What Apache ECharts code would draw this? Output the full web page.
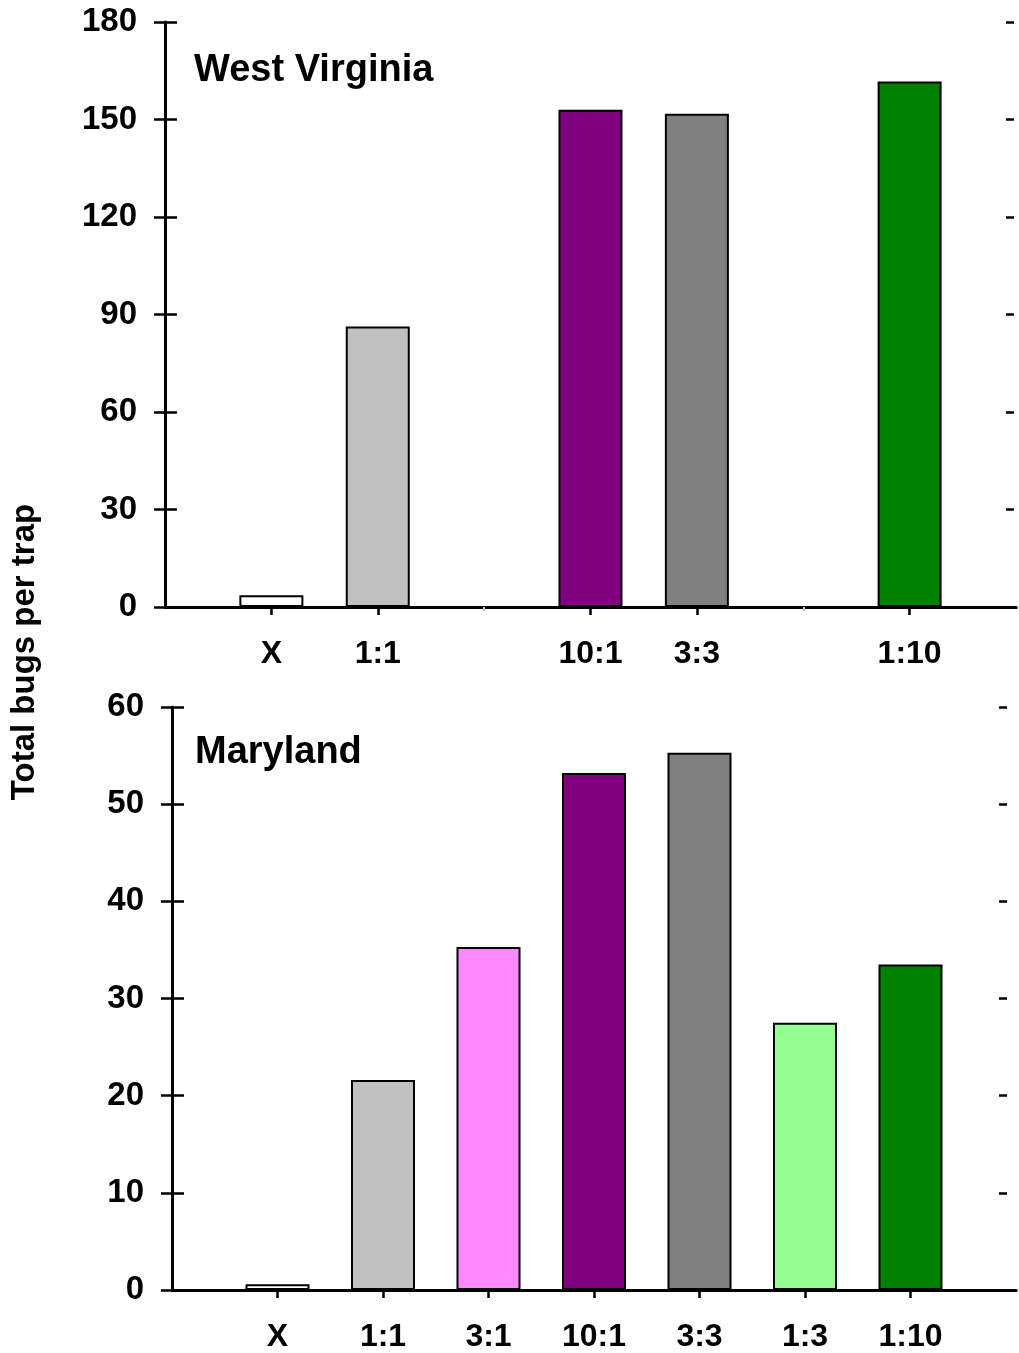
<!DOCTYPE html>
<html>
<head>
<meta charset="utf-8">
<script src="https://cdn.jsdelivr.net/npm/echarts@6/dist/echarts.min.js"></script>
<style>
html,body{margin:0;padding:0;background:#fff;}
#c{width:1019px;height:1353px;}
</style>
</head>
<body>
<div id="c"></div>
<script>
// ---- data ----
const categories = ['X', '1:1', '3:1', '10:1', '3:3', '1:3', '1:10'];
const barColors = ['#FFFFFF', '#C0C0C0', '#FF88FF', '#800080', '#808080', '#96FF96', '#008000'];
const wvLabels = ['X', '1:1', '', '10:1', '3:3', '', '1:10'];
const wvValues = [3.6, 86.3, null, 153.0, 151.8, null, 161.7];
const mdLabels = ['X', '1:1', '3:1', '10:1', '3:3', '1:3', '1:10'];
const mdValues = [0.6, 21.6, 35.3, 53.2, 55.3, 27.5, 33.5];
const wvTicks = [0, 30, 60, 90, 120, 150, 180];
const mdTicks = [0, 10, 20, 30, 40, 50, 60];
const panelTitles = ['West Virginia', 'Maryland'];
const yTitle = 'Total bugs per trap';

const FONT = '"Liberation Sans", Arial, sans-serif';
const chart = echarts.init(document.getElementById('c'), null, {renderer: 'canvas'});

function padded(arr, fill) { return [fill].concat(arr).concat([fill]); }

const grids = [
  {left: 165, top: 22, width: 856, height: 585},
  {left: 172, top: 707, width: 856, height: 586}
];
const panels = [
  {labels: wvLabels, values: wvValues, ticks: wvTicks, rightOffset: -2},
  {labels: mdLabels, values: mdValues, ticks: mdTicks, rightOffset: -9}
];

const xAxes = [], yAxes = [], series = [];
panels.forEach((p, gi) => {
  const axisData = padded(p.labels, '');
  const tmax = p.ticks[p.ticks.length - 1];
  const tint = p.ticks[1] - p.ticks[0];
  const vals = padded(p.values, null);
  const inner = (idx) => idx > 0 && idx < axisData.length - 1;
  // bottom category axis
  xAxes.push({
    gridIndex: gi, type: 'category', data: axisData, boundaryGap: false, position: 'bottom',
    axisLine: {show: true, lineStyle: {color: '#000', width: 3}},
    axisTick: {show: true, inside: false, length: 8, lineStyle: {color: '#000', width: 2.5},
      interval: (idx) => inner(idx) && vals[idx] !== null},
    axisLabel: {show: true, interval: 0, margin: 31, color: '#000', fontSize: 32, fontWeight: 'bold', fontFamily: FONT},
    splitLine: {show: false}
  });
  // top border line
  xAxes.push({
    gridIndex: gi, type: 'category', data: axisData, boundaryGap: false, position: 'top',
    axisLine: {show: true, lineStyle: {color: '#000', width: 3}},
    axisTick: {show: false}, axisLabel: {show: false}, splitLine: {show: false}
  });
  const yBase = {gridIndex: gi, type: 'value', min: 0, max: tmax, interval: tint, splitLine: {show: false}};
  yAxes.push(Object.assign({}, yBase, {
    position: 'left',
    axisLine: {show: true, lineStyle: {color: '#000', width: 3}},
    axisTick: {show: true, inside: false, length: 11, lineStyle: {color: '#000', width: 2.5}},
    axisLabel: {show: true, margin: 28, color: '#000', fontSize: 33, fontWeight: 'bold', fontFamily: FONT}
  }));
  yAxes.push(Object.assign({}, yBase, {
    position: 'left', offset: 0,
    axisLine: {show: false},
    axisTick: {show: true, inside: true, length: 12, lineStyle: {color: '#000', width: 2.5}},
    axisLabel: {show: false}
  }));
  yAxes.push(Object.assign({}, yBase, {
    position: 'right', offset: p.rightOffset,
    axisLine: {show: false},
    axisTick: {show: true, inside: true, length: 8, lineStyle: {color: '#000', width: 2.5}},
    axisLabel: {show: false}
  }));
  series.push({
    type: 'bar', xAxisIndex: gi * 2, yAxisIndex: gi * 3, barWidth: 64,
    data: vals.map((v, i) => v === null ? null : {
      value: v,
      itemStyle: {color: barColors[i - 1], borderColor: '#000', borderWidth: 2}
    }),
    silent: true, animation: false
  });
});

// faint ticks under the empty categories of the top panel
const wvAxisData = padded(wvLabels, '');
const wvVals = padded(wvValues, null);
xAxes.push({
  gridIndex: 0, type: 'category', data: wvAxisData, boundaryGap: false, position: 'bottom', offset: 0,
  axisLine: {show: false},
  axisTick: {show: true, inside: false, length: 4, lineStyle: {color: '#c8c8c8', width: 2},
    interval: (idx) => idx > 0 && idx < wvAxisData.length - 1 && wvVals[idx] === null},
  axisLabel: {show: false}, splitLine: {show: false}
});

const option = {
  backgroundColor: '#fff',
  animation: false,
  grid: grids,
  xAxis: xAxes,
  yAxis: yAxes,
  series: series,
  title: [
    {text: panelTitles[0], left: 194, top: 52, padding: 0,
      textStyle: {fontSize: 38, fontWeight: 'bold', color: '#000', fontFamily: FONT}},
    {text: panelTitles[1], left: 195, top: 734, padding: 0,
      textStyle: {fontSize: 38, fontWeight: 'bold', color: '#000', fontFamily: FONT}}
  ],
  graphic: [{
    type: 'text', x: 25, y: 652, rotation: Math.PI / 2,
    style: {text: yTitle, fontSize: 33, fontWeight: 'bold', fontFamily: FONT, fill: '#000',
      textAlign: 'center', textVerticalAlign: 'middle'}
  }]
};
chart.setOption(option);
</script>
</body>
</html>
